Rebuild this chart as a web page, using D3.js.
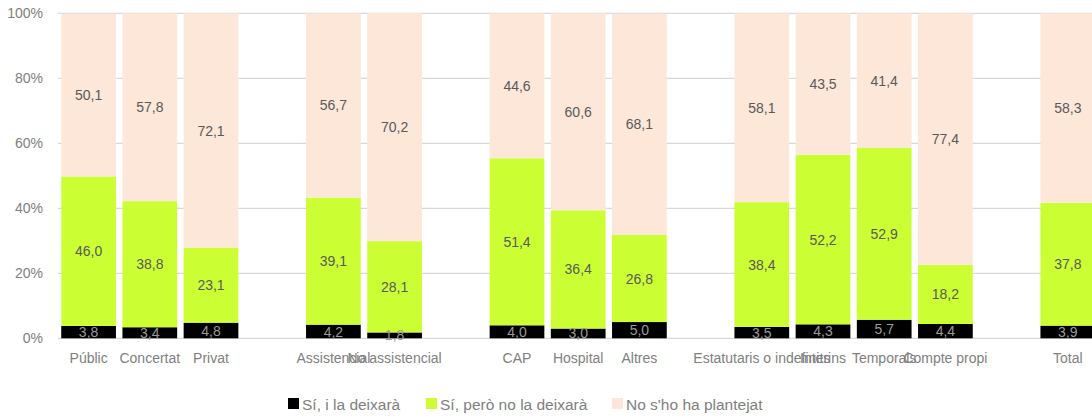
<!DOCTYPE html>
<html>
<head>
<meta charset="utf-8">
<script src="https://cdn.jsdelivr.net/npm/d3@7/dist/d3.min.js"></script>
<style>
  html, body { margin: 0; padding: 0; background: #fff; }
  svg { display: block; }
  svg text { font-family: "Liberation Sans", Arial, sans-serif; }
</style>
</head>
<body>
<svg id="chart" width="1092" height="419"></svg>
<script>
// Categories (empty strings are spacer slots between groups)
const categories = ["Públic", "Concertat", "Privat", "",
  "Assistencial", "No assistencial", "",
  "CAP", "Hospital", "Altres", "",
  "Estatutaris o indefinits", "Interins", "Temporals", "Compte propi", "",
  "Total"];

// Series values (%), aligned to the non-empty categories
const barCategories = ["Públic", "Concertat", "Privat", "Assistencial", "No assistencial",
  "CAP", "Hospital", "Altres", "Estatutaris o indefinits", "Interins", "Temporals", "Compte propi", "Total"];
const siLaDeixara    = [3.8, 3.4, 4.8, 4.2, 1.8, 4.0, 3.0, 5.0, 3.5, 4.3, 5.7, 4.4, 3.9];
const siNoLaDeixara  = [46.0, 38.8, 23.1, 39.1, 28.1, 51.4, 36.4, 26.8, 38.4, 52.2, 52.9, 18.2, 37.8];
const noPlantejat    = [50.1, 57.8, 72.1, 56.7, 70.2, 44.6, 60.6, 68.1, 58.1, 43.5, 41.4, 77.4, 58.3];

const seriesNames = ["Sí, i la deixarà", "Sí, però no la deixarà", "No s'ho ha plantejat"];
const seriesKeys = ["a", "b", "c"];
const colors = ["#000000", "#ccff33", "#fce7d9"];
const labelColors = ["#9a9a9a", "#595959", "#595959"];
const yTicks = [0, 20, 40, 60, 80, 100];

const rows = barCategories.map((c, i) => ({ cat: c, a: siLaDeixara[i], b: siNoLaDeixara[i], c: noPlantejat[i] }));

const svg = d3.select("#chart");
const margin = { left: 58, right: -6.4, top: 13.3, bottom: 80.7 };
const W = 1092, H = 419;

const x = d3.scaleBand().domain(categories.map((c, i) => c === "" ? "__gap" + i : c))
  .range([margin.left, W - margin.right]).paddingInner(0.106).paddingOuter(0.053);
const y = d3.scaleLinear().domain([0, 100]).range([H - margin.bottom, margin.top]);

// Grid lines
svg.append("g").selectAll("line").data(yTicks).join("line")
  .attr("x1", margin.left).attr("x2", W)
  .attr("y1", d => y(d)).attr("y2", d => y(d))
  .attr("stroke", "#d9d9d9").attr("stroke-width", 1.2);

// Y axis labels
const yAxis = d3.axisLeft(y).tickValues(yTicks).tickFormat(d => d + "%").tickSize(0).tickPadding(15);
svg.append("g").attr("transform", `translate(${margin.left},0)`).call(yAxis)
  .call(g => g.select(".domain").remove())
  .call(g => g.selectAll("text").attr("fill", "#808080").style("font-size", "14px"));

// Stacked bars
const stacked = d3.stack().keys(seriesKeys)(rows);
const layers = svg.append("g").selectAll("g").data(stacked).join("g")
  .attr("fill", (d, i) => colors[i]);
layers.selectAll("rect").data(d => d).join("rect")
  .attr("x", d => x(d.data.cat))
  .attr("width", x.bandwidth())
  .attr("y", d => y(d[1]))
  .attr("height", d => y(d[0]) - y(d[1]));

// Value labels
const fmt = v => v.toFixed(1).replace(".", ",");
svg.append("g").selectAll("g").data(stacked).join("g").each(function (layer, li) {
  d3.select(this).selectAll("text").data(layer).join("text")
    .attr("x", d => x(d.data.cat) + x.bandwidth() / 2)
    .attr("y", d => (y(d[0]) + y(d[1])) / 2)
    .attr("dy", "0.36em")
    .attr("text-anchor", "middle")
    .attr("fill", labelColors[li])
    .style("font-size", "14px")
    .text(d => fmt(d[1] - d[0]));
});

// X axis labels
const xAxis = d3.axisBottom(x).tickSize(0).tickPadding(15)
  .tickFormat(d => d.startsWith("__gap") ? "" : d);
svg.append("g").attr("transform", `translate(0,${y(0)})`).call(xAxis)
  .call(g => g.select(".domain").remove())
  .call(g => g.selectAll("text").attr("fill", "#808080").style("font-size", "14px"));

// Legend
const legendX = [288, 426, 612];
const legend = svg.append("g").selectAll("g").data(seriesNames).join("g")
  .attr("transform", (d, i) => `translate(${legendX[i]},398)`);
legend.append("rect").attr("width", 11).attr("height", 11).attr("fill", (d, i) => colors[i]);
legend.append("text").attr("x", 14).attr("y", 6.5).attr("dy", "0.36em")
  .attr("fill", "#808080").style("font-size", "15.5px").text(d => d);
</script>
</body>
</html>
